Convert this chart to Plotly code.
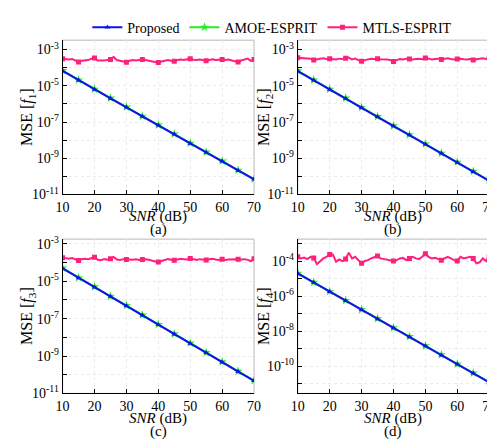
import plotly.graph_objects as go

# ---------------- data ----------------
snr_fine = list(range(10, 71))
snr_mark = [10, 15, 20, 25, 30, 35, 40, 45, 50, 55, 60, 65, 70]

proposed_a = [6.6e-5, 2.0e-5, 6.3e-6, 2.0e-6, 6.5e-7, 2.0e-7, 6.6e-8, 2.1e-8, 6.6e-9, 2.1e-9, 6.8e-10, 2.1e-10, 6.9e-11]
proposed_b = [6.5e-5, 2.0e-5, 6.3e-6, 2.0e-6, 6.2e-7, 1.95e-7, 6.0e-8, 1.9e-8, 6.0e-9, 1.86e-9, 5.9e-10, 1.8e-10, 5.6e-11]
proposed_c = [4.8e-5, 1.5e-5, 4.8e-6, 1.5e-6, 4.8e-7, 1.5e-7, 4.7e-8, 1.48e-8, 4.7e-9, 1.48e-9, 4.7e-10, 1.48e-10, 4.7e-11]
proposed_d = [1.95e-5, 5.9e-6, 1.78e-6, 5.5e-7, 1.66e-7, 5.0e-8, 1.51e-8, 4.7e-9, 1.41e-9, 4.3e-10, 1.29e-10, 4.0e-11, 1.2e-11]

amoe_a = [6.9e-5, 2.1e-5, 6.5e-6, 2.1e-6, 6.7e-7, 2.1e-7, 6.8e-8, 2.2e-8, 6.8e-9, 2.2e-9, 7.0e-10, 2.2e-10, 7.1e-11]
amoe_b = [6.7e-5, 2.1e-5, 6.5e-6, 2.1e-6, 6.4e-7, 2.0e-7, 6.2e-8, 2.0e-8, 6.2e-9, 1.9e-9, 6.1e-10, 1.9e-10, 5.8e-11]
amoe_c = [5.0e-5, 1.55e-5, 5.0e-6, 1.55e-6, 5.0e-7, 1.55e-7, 4.9e-8, 1.53e-8, 4.9e-9, 1.53e-9, 4.9e-10, 1.53e-10, 4.9e-11]
amoe_d = [2.0e-5, 6.1e-6, 1.84e-6, 5.7e-7, 1.72e-7, 5.2e-8, 1.56e-8, 4.9e-9, 1.46e-9, 4.5e-10, 1.34e-10, 4.1e-11, 1.25e-11]

mtls_a = [3.16e-4, 2.95e-4, 2.82e-4, 3.02e-4, 2.63e-4, 2.09e-4, 2.40e-4, 2.51e-4, 2.63e-4, 3.16e-4,
          3.39e-4, 2.51e-4, 2.40e-4, 2.51e-4, 2.63e-4, 2.82e-4, 3.98e-4, 2.63e-4, 2.40e-4, 2.19e-4,
          2.00e-4, 2.40e-4, 2.63e-4, 2.51e-4, 2.69e-4, 2.82e-4, 2.63e-4, 2.40e-4, 2.24e-4, 2.09e-4,
          1.91e-4, 2.19e-4, 2.51e-4, 2.69e-4, 2.40e-4, 2.24e-4, 2.63e-4, 2.82e-4, 2.69e-4, 3.02e-4,
          3.16e-4, 2.75e-4, 2.63e-4, 2.82e-4, 2.51e-4, 2.40e-4, 2.69e-4, 2.88e-4, 2.63e-4, 2.75e-4,
          2.82e-4, 2.63e-4, 2.82e-4, 2.51e-4, 2.19e-4, 2.09e-4, 2.51e-4, 2.82e-4, 3.16e-4, 2.40e-4,
          2.82e-4]
mtls_b = [3.55e-4, 3.39e-4, 3.16e-4, 3.02e-4, 3.16e-4, 2.69e-4, 3.02e-4, 3.16e-4, 3.31e-4, 3.02e-4,
          3.16e-4, 2.95e-4, 2.82e-4, 3.16e-4, 3.02e-4, 3.31e-4, 3.63e-4, 2.82e-4, 3.16e-4, 2.63e-4,
          2.24e-4, 2.63e-4, 3.02e-4, 3.16e-4, 3.02e-4, 3.16e-4, 2.95e-4, 3.02e-4, 2.82e-4, 2.63e-4,
          2.19e-4, 2.63e-4, 3.02e-4, 2.82e-4, 3.16e-4, 3.02e-4, 2.82e-4, 3.02e-4, 3.16e-4, 2.95e-4,
          3.39e-4, 3.16e-4, 2.82e-4, 3.02e-4, 3.16e-4, 2.82e-4, 3.16e-4, 3.31e-4, 3.02e-4, 2.82e-4,
          3.02e-4, 3.16e-4, 2.95e-4, 2.82e-4, 3.02e-4, 2.63e-4, 2.95e-4, 3.16e-4, 3.31e-4, 3.02e-4,
          3.39e-4]
mtls_c = [1.82e-4, 1.66e-4, 1.58e-4, 1.74e-4, 1.45e-4, 1.26e-4, 1.51e-4, 1.58e-4, 1.48e-4, 1.66e-4,
          1.91e-4, 1.41e-4, 1.32e-4, 1.51e-4, 1.41e-4, 1.58e-4, 2.00e-4, 1.45e-4, 1.38e-4, 1.51e-4,
          1.45e-4, 1.51e-4, 1.41e-4, 1.48e-4, 1.38e-4, 1.45e-4, 1.51e-4, 1.41e-4, 1.26e-4, 1.10e-4,
          1.05e-4, 1.20e-4, 1.38e-4, 1.51e-4, 1.41e-4, 1.32e-4, 1.45e-4, 1.58e-4, 1.51e-4, 1.45e-4,
          1.66e-4, 1.45e-4, 1.38e-4, 1.51e-4, 1.45e-4, 1.38e-4, 1.51e-4, 1.58e-4, 1.45e-4, 1.38e-4,
          1.48e-4, 1.38e-4, 1.45e-4, 1.51e-4, 1.58e-4, 1.51e-4, 1.45e-4, 1.51e-4, 1.38e-4, 1.20e-4,
          1.58e-4]
mtls_d = [1.74e-4, 1.41e-4, 1.58e-4, 1.29e-4, 1.74e-4, 1.51e-4, 6.6e-5, 1.0e-4, 1.41e-4, 1.74e-4,
          2.34e-4, 2.34e-4, 9.2e-5, 1.23e-4, 1.0e-4, 1.29e-4, 3.02e-4, 1.41e-4, 1.74e-4, 1.12e-4,
          7.4e-5, 1.0e-4, 1.12e-4, 1.41e-4, 1.74e-4, 1.95e-4, 1.41e-4, 1.29e-4, 1.12e-4, 1.0e-4,
          1.0e-4, 1.12e-4, 1.41e-4, 1.51e-4, 1.12e-4, 1.41e-4, 1.74e-4, 1.41e-4, 1.29e-4, 1.74e-4,
          2.63e-4, 1.74e-4, 1.41e-4, 1.51e-4, 1.29e-4, 1.12e-4, 1.41e-4, 1.74e-4, 1.41e-4, 1.12e-4,
          1.0e-4, 1.74e-4, 1.41e-4, 1.51e-4, 1.74e-4, 1.41e-4, 7.4e-5, 8.5e-5, 1.41e-4, 1.0e-4,
          1.74e-4]

panel_letters = ["(a)", "(b)", "(c)", "(d)"]
y_titles = ["MSE [<i>f</i><sub>1</sub>]", "MSE [<i>f</i><sub>2</sub>]",
            "MSE [<i>f</i><sub>3</sub>]", "MSE [<i>f</i><sub>4</sub>]"]
x_title = "<i>SNR</i> (dB)"
x_ticks = [10, 20, 30, 40, 50, 60, 70]
y_label_exps = [[-3, -5, -7, -9, -11], [-3, -5, -7, -9, -11],
                [-3, -5, -7, -9, -11], [-4, -6, -8, -10]]

# ---------------- style ----------------
W, H = 495, 440
FONT = "Liberation Serif"
BLUE, GREEN, PINK = "#1010f0", "#22ee22", "#ff1f80"

# pixel boxes (left, right, top, bottom), and text rows (x-title, letter)
boxes = [(49, 246, 28, 187), (291, 488, 28, 187),
         (49, 246, 233, 392), (291, 488, 233, 392)]
text_rows = [(210, 223), (210, 223), (418, 431), (418, 431)]
y_title_x = [13, 257, 13, 257]
y_ranges = [[-11, -2.48], [-11, -2.48], [-11, -2.75], [-11.55, -2.75]]

proposed = [proposed_a, proposed_b, proposed_c, proposed_d]
amoe = [amoe_a, amoe_b, amoe_c, amoe_d]
mtls = [mtls_a, mtls_b, mtls_c, mtls_d]

fig = go.Figure()
layout = dict(
    width=W, height=H, margin=dict(l=0, r=0, t=0, b=0),
    paper_bgcolor="white", plot_bgcolor="white",
    font=dict(family=FONT, size=14, color="black"),
    showlegend=True,
    legend=dict(orientation="h", x=0.535, y=1 - 15 / H, xanchor="center", yanchor="middle",
                font=dict(family=FONT, size=14), itemwidth=30, tracegroupgap=0,
                bgcolor="rgba(0,0,0,0)"),
)
annotations = []
shapes = []

for i in range(4):
    l, r, t, b = boxes[i]
    xa = "x" if i == 0 else f"x{i+1}"
    ya = "y" if i == 0 else f"y{i+1}"
    show = (i == 0)
    fig.add_trace(go.Scatter(x=snr_fine, y=mtls[i], mode="lines", xaxis=xa, yaxis=ya,
                             line=dict(color=PINK, width=2), showlegend=False))
    fig.add_trace(go.Scatter(x=snr_mark, y=mtls[i][::5], mode="markers", xaxis=xa, yaxis=ya,
                             marker=dict(color=PINK, symbol="square", size=5),
                             showlegend=False))
    fig.add_trace(go.Scatter(x=snr_mark, y=amoe[i], mode="lines+markers", xaxis=xa, yaxis=ya,
                             name="AMOE-ESPRIT", legendrank=2,
                             line=dict(color=GREEN, width=2),
                             marker=dict(color=GREEN, symbol="star", size=7),
                             showlegend=show))
    fig.add_trace(go.Scatter(x=snr_mark, y=proposed[i], mode="lines+markers", xaxis=xa, yaxis=ya,
                             name="Proposed", legendrank=1,
                             line=dict(color=BLUE, width=2),
                             marker=dict(color=BLUE, symbol="triangle-up", size=5),
                             showlegend=show))
    if show:
        # legend entry for MTLS-ESPRIT (line with square marker)
        fig.add_trace(go.Scatter(x=[None], y=[None], mode="lines+markers",
                                 xaxis=xa, yaxis=ya, name="MTLS-ESPRIT", legendrank=3,
                                 line=dict(color=PINK, width=2),
                                 marker=dict(color=PINK, symbol="square", size=5),
                                 showlegend=True, hoverinfo="skip"))

    exps = list(range(-11, -2))
    tickvals = [10.0 ** e for e in exps]
    ticktext = [f"10<sup>{e}</sup>" if e in y_label_exps[i] else "" for e in exps]

    layout["xaxis" if i == 0 else f"xaxis{i+1}"] = dict(
        domain=[l / W, r / W], anchor=ya, range=[10, 70],
        tickmode="array", tickvals=x_ticks, ticktext=[str(v) for v in x_ticks],
        ticks="inside", ticklen=4, tickcolor="black", ticklabeloverflow="allow",
        showline=True, linecolor="black", linewidth=1,
        showgrid=True, gridcolor="#ebebeb", griddash="dot", gridwidth=1,
        zeroline=False, tickfont=dict(size=14),
    )
    layout["yaxis" if i == 0 else f"yaxis{i+1}"] = dict(
        domain=[1 - b / H, 1 - t / H], anchor=xa, type="log", range=y_ranges[i],
        tickmode="array", tickvals=tickvals, ticktext=ticktext,
        ticks="inside", ticklen=4, tickcolor="black",
        showline=True, linecolor="black", linewidth=1,
        showgrid=True, gridcolor="#ebebeb", griddash="dot", gridwidth=1,
        zeroline=False, tickfont=dict(size=14),
    )
    shapes.append(dict(type="rect", xref=f"{xa} domain", yref=f"{ya} domain",
                       x0=0, x1=1, y0=0, y1=1, line=dict(color="#b8b8b8", width=1),
                       layer="below"))
    xt_y, let_y = text_rows[i]
    annotations.append(dict(text=x_title, xref="paper", yref="paper",
                            x=(l + r) / 2 / W, y=1 - xt_y / H,
                            xanchor="center", yanchor="middle", showarrow=False,
                            font=dict(family=FONT, size=15)))
    annotations.append(dict(text=panel_letters[i], xref="paper", yref="paper",
                            x=(l + r) / 2 / W, y=1 - let_y / H,
                            xanchor="center", yanchor="middle", showarrow=False,
                            font=dict(family=FONT, size=15)))
    annotations.append(dict(text=y_titles[i], xref="paper", yref="paper",
                            x=y_title_x[i] / W, y=1 - (t + b) / 2 / H, textangle=-90,
                            xanchor="center", yanchor="middle", showarrow=False,
                            font=dict(family=FONT, size=16)))

layout["annotations"] = annotations
layout["shapes"] = shapes
fig.update_layout(**layout)
fig.write_html("out.html")
